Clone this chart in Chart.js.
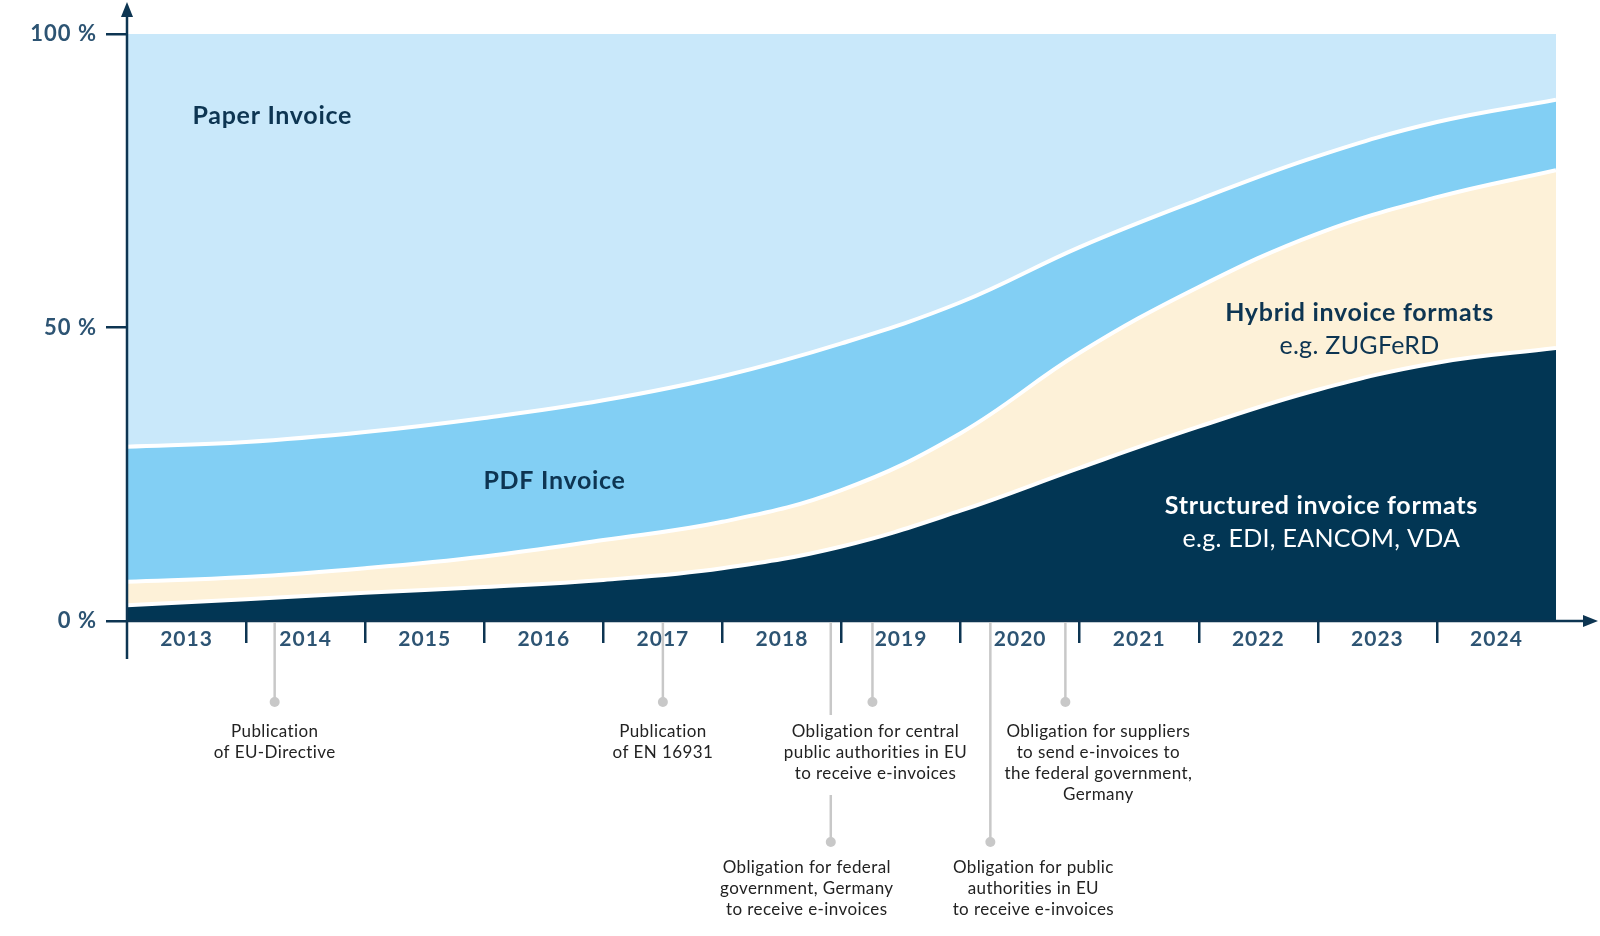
<!DOCTYPE html>
<html>
<head>
<meta charset="utf-8">
<script src="https://cdn.jsdelivr.net/npm/chart.js@4.4.1/dist/chart.umd.min.js"></script>
<style>
  html, body { margin: 0; padding: 0; background: #ffffff; }
  #wrap { width: 1600px; height: 936px; }
</style>
</head>
<body>
<div id="wrap"><canvas id="invoiceChart" width="1600" height="936"></canvas></div>
<script>
// x is measured in years from the start of 2013
const years = ['2013', '2014', '2015', '2016', '2017', '2018', '2019', '2020', '2021', '2022', '2023', '2024']
const yearStarts = [0, 1, 2, 3, 4, 5, 6, 7, 8, 9, 10, 11, 12]

// share of invoices in % at the start of each year
const structuredShare = [2.7, 3.7, 4.8, 5.8, 7.0, 9.0, 12.7, 18.8, 26.1, 33.1, 39.4, 44.0, 46.5]
const hybridShare = [4.0, 3.8, 4.2, 5.2, 6.8, 7.9, 9.6, 13.2, 19.6, 23.8, 26.6, 28.2, 30.3]
const pdfShare = [23.0, 23.0, 23.2, 23.6, 23.8, 24.8, 25.0, 22.3, 18.0, 14.9, 13.2, 12.8, 12.0]
const paperShare = [70.3, 69.5, 67.8, 65.4, 62.4, 58.3, 52.7, 45.7, 36.3, 28.2, 20.8, 15.0, 11.2]

const yTicks = [0, 50, 100]

// milestones below the time axis, row 0 = upper row, row 1 = lower row
const eventYears = [1.24, 4.5, 5.91, 6.26, 7.25, 7.88]
const eventRows = [0, 0, 1, 0, 1, 0]
const eventTexts = [
    ['Publication', 'of EU-Directive'],
    ['Publication', 'of EN 16931'],
    ['Obligation for federal', 'government, Germany', 'to receive e-invoices'],
    ['Obligation for central', 'public authorities in EU', 'to receive e-invoices'],
    ['Obligation for public', 'authorities in EU', 'to receive e-invoices'],
    ['Obligation for suppliers', 'to send e-invoices to', 'the federal government,', 'Germany']
]

const navy = '#0d3552'
const tickText = '#2d5473'

function points(values) {
    return values.map((v, i) => ({ x: yearStarts[i], y: v }))
}

function layer(label, values, color, border) {
    return {
        label: label,
        data: points(values),
        backgroundColor: color,
        borderColor: '#ffffff',
        borderWidth: border,
        fill: label === 'Structured' ? 'origin' : '-1',
        pointRadius: 0,
        tension: 0.4,
        clip: 0
    }
}

const decorations = {
    id: 'decorations',
    beforeDraw(chart) {
        // the original type is set a little wider than Lato
        chart.ctx.letterSpacing = '1px'
    },
    afterDraw(chart) {
        const ctx = chart.ctx
        const x = chart.scales.x
        const y = chart.scales.y
        const left = chart.chartArea.left
        const axisY = y.getPixelForValue(0)

        ctx.save()
        // axes with arrows
        ctx.strokeStyle = navy
        ctx.fillStyle = navy
        ctx.lineWidth = 2.5
        ctx.beginPath()
        ctx.moveTo(left, 12)
        ctx.lineTo(left, axisY + 38)
        ctx.moveTo(left, axisY)
        ctx.lineTo(x.right + 30, axisY)
        ctx.stroke()
        ctx.beginPath()
        ctx.moveTo(left, 2)
        ctx.lineTo(left + 6, 17)
        ctx.lineTo(left - 6, 17)
        ctx.closePath()
        ctx.fill()
        ctx.beginPath()
        ctx.moveTo(x.right + 42, axisY)
        ctx.lineTo(x.right + 27, axisY - 6)
        ctx.lineTo(x.right + 27, axisY + 6)
        ctx.closePath()
        ctx.fill()

        // area labels
        const areaLabels = [
            { t: 'Paper Invoice', x: 1.22, y: 86.0, bold: true, c: navy },
            { t: 'PDF Invoice', x: 3.59, y: 23.9, bold: true, c: navy },
            { t: 'Hybrid invoice formats', x: 10.35, y: 52.5, bold: true, c: navy },
            { t: 'e.g. ZUGFeRD', x: 10.35, y: 46.9, bold: false, c: navy },
            { t: 'Structured invoice formats', x: 10.03, y: 19.6, bold: true, c: '#ffffff' },
            { t: 'e.g. EDI, EANCOM, VDA', x: 10.03, y: 14.0, bold: false, c: '#ffffff' }
        ]
        ctx.textAlign = 'center'
        ctx.textBaseline = 'middle'
        areaLabels.forEach(l => {
            ctx.font = l.bold ? 'bold 25px Lato' : '25px Lato'
            ctx.letterSpacing = l.bold ? '0.7px' : '0.3px'
            ctx.fillStyle = l.c
            ctx.fillText(l.t, x.getPixelForValue(l.x), y.getPixelForValue(l.y))
        })

        // milestones
        const labelShift = [0, 0, -24, 3, 43, 33]
        const lineGap = 21
        ctx.font = '17px Lato'
        ctx.letterSpacing = '0.4px'
        const blocks = eventYears.map((yr, i) => {
            const px = x.getPixelForValue(yr)
            const cx = px + labelShift[i]
            const first = axisY + (eventRows[i] === 0 ? 111 : 247)
            const w = Math.max(...eventTexts[i].map(s => ctx.measureText(s).width))
            return { px, cx, first, last: first + lineGap * (eventTexts[i].length - 1), w }
        })
        blocks.forEach((b, i) => {
            const dotY = axisY + (eventRows[i] === 0 ? 81 : 221)
            ctx.strokeStyle = '#c8c8c8'
            ctx.fillStyle = '#c8c8c8'
            ctx.lineWidth = 2.5
            ctx.beginPath()
            ctx.moveTo(b.px, axisY + 1)
            blocks.forEach((o, j) => {
                if (j !== i && eventRows[j] === 0 && eventRows[i] === 1 &&
                    Math.abs(o.cx - b.px) < o.w / 2 + 4) {
                    ctx.lineTo(b.px, o.first - 17)
                    ctx.moveTo(b.px, o.last + 21)
                }
            })
            ctx.lineTo(b.px, dotY)
            ctx.stroke()
            ctx.beginPath()
            ctx.arc(b.px, dotY, 5, 0, Math.PI * 2)
            ctx.fill()

            ctx.fillStyle = '#222222'
            eventTexts[i].forEach((s, k) => {
                ctx.fillText(s, b.cx, b.first + k * lineGap)
            })
        })
        ctx.restore()
    }
}

new Chart(document.getElementById('invoiceChart'), {
    type: 'line',
    data: {
        datasets: [
            layer('Structured', structuredShare, '#023654', 4),
            layer('Hybrid', hybridShare, '#fdf1d8', 4),
            layer('PDF', pdfShare, '#82cff4', 4),
            layer('Paper', paperShare, '#c9e8fa', 0)
        ]
    },
    options: {
        responsive: false,
        animation: false,
        devicePixelRatio: 1,
        layout: { padding: { left: 0, top: 34, right: 44, bottom: 0 } },
        plugins: {
            legend: { display: false },
            tooltip: { enabled: false }
        },
        scales: {
            x: {
                type: 'linear',
                min: 0,
                max: 12,
                afterBuildTicks: scale => {
                    scale.ticks = [...Array(25)].map((_, i) => ({ value: i / 2 }))
                },
                afterFit: scale => { scale.height = 315 },
                border: { display: false },
                grid: {
                    drawOnChartArea: false,
                    tickLength: 22,
                    tickWidth: 2.5,
                    lineWidth: 2.5,
                    tickColor: c => {
                        const v = c.tick ? c.tick.value : 0
                        return (v % 1 === 0 && v > 0 && v < 12) ? navy : 'rgba(0,0,0,0)'
                    }
                },
                ticks: {
                    autoSkip: false,
                    maxRotation: 0,
                    padding: -16,
                    color: tickText,
                    font: { family: 'Lato', size: 21, weight: 'bold' },
                    callback: v => (v % 1 === 0.5 ? years[Math.floor(v)] : '')
                }
            },
            y: {
                stacked: true,
                min: 0,
                max: 100,
                afterBuildTicks: scale => {
                    scale.ticks = yTicks.map(v => ({ value: v }))
                },
                afterFit: scale => { scale.width = 127 },
                border: { display: false },
                grid: {
                    drawOnChartArea: false,
                    tickLength: 21,
                    tickWidth: 2.5,
                    lineWidth: 2.5,
                    tickColor: navy
                },
                ticks: {
                    padding: 9,
                    color: tickText,
                    font: { family: 'Lato', size: 22, weight: 'bold' },
                    callback: v => v + ' %'
                }
            }
        }
    },
    plugins: [decorations]
})
</script>
</body>
</html>
